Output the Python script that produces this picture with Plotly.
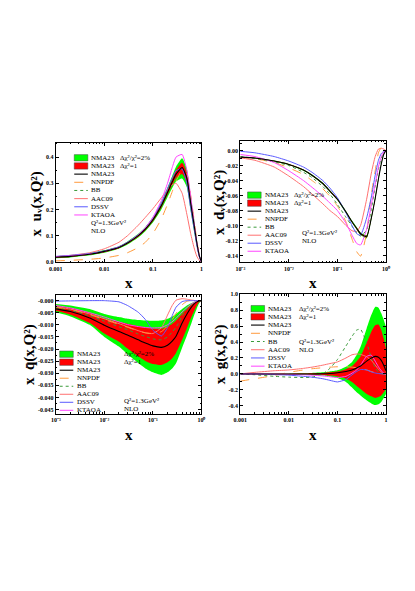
import plotly.graph_objects as go

W, H = 415, 591

X = [0.001, 0.002, 0.005, 0.01, 0.02, 0.03, 0.05, 0.07, 0.1, 0.15,
     0.2, 0.25, 0.3, 0.4, 0.5, 0.6, 0.7, 0.8, 0.9, 1.0]

# ---- x u_v(x,Q^2) ----
UV_NMA23 = [0.018, 0.021, 0.029, 0.040, 0.055, 0.072, 0.100, 0.125, 0.160, 0.215,
            0.265, 0.305, 0.335, 0.360, 0.320, 0.225, 0.145, 0.075, 0.025, 0.0]
UV_G_HI = [0.022, 0.025, 0.033, 0.045, 0.060, 0.078, 0.107, 0.133, 0.170, 0.229,
           0.283, 0.328, 0.363, 0.395, 0.355, 0.255, 0.170, 0.090, 0.032, 0.0]
UV_G_LO = [0.014, 0.017, 0.025, 0.035, 0.050, 0.066, 0.093, 0.117, 0.150, 0.201,
           0.247, 0.282, 0.307, 0.318, 0.285, 0.195, 0.120, 0.060, 0.018, 0.0]
UV_R_HI = [0.020, 0.023, 0.031, 0.043, 0.058, 0.075, 0.104, 0.129, 0.165, 0.222,
           0.274, 0.317, 0.350, 0.378, 0.340, 0.242, 0.158, 0.083, 0.029, 0.0]
UV_R_LO = [0.016, 0.019, 0.027, 0.037, 0.052, 0.069, 0.096, 0.121, 0.155, 0.208,
           0.256, 0.293, 0.320, 0.335, 0.300, 0.208, 0.132, 0.067, 0.021, 0.0]
UV_NNPDF = [0.004, 0.006, 0.010, 0.015, 0.025, 0.035, 0.055, 0.075, 0.108, 0.165,
            0.220, 0.268, 0.308, 0.350, 0.335, 0.255, 0.165, 0.085, 0.028, 0.0]
UV_BB = [0.019, 0.022, 0.030, 0.041, 0.056, 0.073, 0.101, 0.126, 0.162, 0.217,
         0.267, 0.307, 0.337, 0.355, 0.318, 0.222, 0.142, 0.073, 0.024, 0.0]
UV_AAC09 = [0.020, 0.025, 0.035, 0.050, 0.075, 0.100, 0.140, 0.170, 0.203, 0.245,
            0.275, 0.294, 0.300, 0.262, 0.182, 0.108, 0.056, 0.022, 0.006, 0.0]
UV_DSSV = [0.021, 0.025, 0.032, 0.042, 0.058, 0.075, 0.104, 0.130, 0.168, 0.225,
           0.280, 0.320, 0.348, 0.355, 0.300, 0.205, 0.130, 0.065, 0.020, 0.0]
UV_KTAOA = [0.020, 0.023, 0.030, 0.040, 0.056, 0.073, 0.103, 0.130, 0.170, 0.235,
            0.300, 0.360, 0.400, 0.410, 0.350, 0.250, 0.155, 0.078, 0.024, 0.0]

# ---- x d_v(x,Q^2) ----
DV_NMA23 = [-0.0088, -0.0100, -0.0140, -0.0185, -0.0260, -0.0330, -0.0440, -0.0540, -0.0650, -0.0820,
            -0.0950, -0.1040, -0.1110, -0.1150, -0.0900, -0.0640, -0.0380, -0.0180, -0.0050, 0.0]
DV_G_HI = [-0.0083, -0.0095, -0.0134, -0.0178, -0.0252, -0.0321, -0.0430, -0.0529, -0.0638, -0.0806,
           -0.0935, -0.1023, -0.1092, -0.1128, -0.0880, -0.0622, -0.0366, -0.0171, -0.0046, 0.0]
DV_G_LO = [-0.0093, -0.0105, -0.0146, -0.0192, -0.0268, -0.0339, -0.0450, -0.0551, -0.0662, -0.0834,
           -0.0965, -0.1057, -0.1128, -0.1172, -0.0920, -0.0658, -0.0394, -0.0189, -0.0054, 0.0]
DV_R_HI = [-0.0085, -0.0097, -0.0137, -0.0181, -0.0256, -0.0325, -0.0435, -0.0534, -0.0644, -0.0813,
           -0.0942, -0.1031, -0.1100, -0.1138, -0.0890, -0.0631, -0.0373, -0.0175, -0.0048, 0.0]
DV_R_LO = [-0.0091, -0.0103, -0.0143, -0.0189, -0.0264, -0.0335, -0.0445, -0.0546, -0.0656, -0.0827,
           -0.0958, -0.1049, -0.1120, -0.1162, -0.0910, -0.0649, -0.0387, -0.0185, -0.0052, 0.0]
DV_NNPDF = [-0.0088, -0.0110, -0.0160, -0.0230, -0.0320, -0.0400, -0.0510, -0.0610, -0.0740, -0.0950,
            -0.1180, -0.1350, -0.1410, -0.1100, -0.0580, -0.0270, -0.0030, 0.0040, 0.0030, 0.0]
DV_BB = [-0.0080, -0.0105, -0.0150, -0.0200, -0.0290, -0.0360, -0.0480, -0.0580, -0.0720, -0.0890,
         -0.1010, -0.1100, -0.1140, -0.1060, -0.0780, -0.0480, -0.0250, -0.0100, -0.0030, 0.0]
DV_AAC09 = [-0.0097, -0.0130, -0.0220, -0.0340, -0.0480, -0.0580, -0.0710, -0.0800, -0.0880, -0.1000,
            -0.1070, -0.1080, -0.1000, -0.0650, -0.0300, -0.0080, 0.0020, 0.0030, 0.0020, 0.0]
DV_DSSV = [-0.0010, -0.0030, -0.0080, -0.0140, -0.0220, -0.0290, -0.0400, -0.0500, -0.0630, -0.0830,
           -0.1000, -0.1110, -0.1130, -0.0900, -0.0620, -0.0330, -0.0130, -0.0040, -0.0010, 0.0]
DV_KTAOA = [-0.0053, -0.0080, -0.0160, -0.0270, -0.0400, -0.0490, -0.0610, -0.0700, -0.0800, -0.0970,
            -0.1130, -0.1240, -0.1260, -0.1050, -0.0720, -0.0450, -0.0220, -0.0080, -0.0020, 0.0]

# ---- x qbar(x,Q^2) ----
QB_NMA23 = [-0.0034, -0.0045, -0.0072, -0.0102, -0.0128, -0.0142, -0.0162, -0.0175, -0.0187, -0.0193,
            -0.0184, -0.0167, -0.0147, -0.0092, -0.0056, -0.0031, -0.0014, -0.0005, -0.0001, 0.0]
QB_G_HI = [-0.0014, -0.0020, -0.0035, -0.0055, -0.0068, -0.0075, -0.0080, -0.0082, -0.0083, -0.0082,
           -0.0075, -0.0065, -0.0055, -0.0035, -0.0020, -0.0012, -0.0006, -0.0002, 0.0, 0.0]
QB_G_LO = [-0.0048, -0.0065, -0.0100, -0.0150, -0.0190, -0.0222, -0.0258, -0.0280, -0.0296, -0.0307,
           -0.0296, -0.0280, -0.0259, -0.0195, -0.0145, -0.0102, -0.0062, -0.0033, -0.0010, 0.0]
QB_R_HI = [-0.0022, -0.0030, -0.0050, -0.0075, -0.0088, -0.0095, -0.0105, -0.0110, -0.0115, -0.0116,
           -0.0108, -0.0095, -0.0082, -0.0055, -0.0035, -0.0020, -0.0010, -0.0004, -0.0001, 0.0]
QB_R_LO = [-0.0042, -0.0058, -0.0092, -0.0136, -0.0170, -0.0198, -0.0230, -0.0249, -0.0262, -0.0266,
           -0.0255, -0.0238, -0.0216, -0.0162, -0.0115, -0.0075, -0.0045, -0.0020, -0.0006, 0.0]
QB_NNPDF = [-0.0027, -0.0037, -0.0058, -0.0078, -0.0098, -0.0110, -0.0125, -0.0133, -0.0136, -0.0128,
            -0.0105, -0.0078, -0.0052, -0.0017, -0.0003, 0.0001, 0.0001, 0.0, 0.0, 0.0]
QB_BB = [-0.0030, -0.0040, -0.0062, -0.0085, -0.0108, -0.0120, -0.0138, -0.0148, -0.0158, -0.0162,
         -0.0150, -0.0130, -0.0110, -0.0065, -0.0035, -0.0017, -0.0007, -0.0002, 0.0, 0.0]
QB_AAC09 = [-0.0025, -0.0035, -0.0055, -0.0075, -0.0095, -0.0108, -0.0124, -0.0133, -0.0136, -0.0112,
            -0.0060, -0.0020, 0.0002, 0.0008, 0.0006, 0.0003, 0.0001, 0.0, 0.0, 0.0]
QB_DSSV = [-0.0002, -0.0001, 0.0, 0.0, -0.0005, -0.0020, -0.0048, -0.0078, -0.0122, -0.0146,
           -0.0112, -0.0062, -0.0027, -0.0004, 0.0, 0.0, 0.0, 0.0, 0.0, 0.0]
QB_KTAOA = [-0.0020, -0.0030, -0.0050, -0.0068, -0.0088, -0.0099, -0.0107, -0.0111, -0.0113, -0.0111,
            -0.0100, -0.0087, -0.0073, -0.0047, -0.0029, -0.0016, -0.0008, -0.0003, 0.0, 0.0]

# ---- x g(x,Q^2) ----
G_NMA23 = [0.0, 0.0, 0.0, 0.0, 0.0, 0.0, 0.002, 0.006, 0.015, 0.030,
           0.050, 0.075, 0.100, 0.160, 0.200, 0.220, 0.210, 0.170, 0.110, 0.040]
G_G_HI = [0.002, 0.002, 0.003, 0.004, 0.008, 0.012, 0.020, 0.030, 0.045, 0.090,
          0.150, 0.240, 0.340, 0.570, 0.740, 0.840, 0.830, 0.760, 0.680, 0.590]
G_G_LO = [-0.002, -0.002, -0.003, -0.004, -0.008, -0.012, -0.020, -0.032, -0.050, -0.100,
          -0.170, -0.230, -0.270, -0.330, -0.370, -0.390, -0.380, -0.350, -0.300, -0.250]
G_R_HI = [0.001, 0.001, 0.002, 0.003, 0.005, 0.008, 0.013, 0.020, 0.030, 0.060,
          0.100, 0.160, 0.220, 0.390, 0.530, 0.610, 0.620, 0.550, 0.440, 0.320]
G_R_LO = [-0.001, -0.001, -0.002, -0.003, -0.005, -0.008, -0.013, -0.020, -0.030, -0.060,
          -0.100, -0.150, -0.190, -0.250, -0.280, -0.300, -0.290, -0.270, -0.230, -0.190]
G_NNPDF = [-0.090, -0.060, -0.020, 0.020, 0.050, 0.065, 0.078, 0.085, 0.090, 0.090,
           0.085, 0.078, 0.070, 0.050, 0.030, 0.018, 0.008, 0.003, 0.001, 0.0]
G_BB = [0.0, -0.010, -0.030, -0.040, -0.045, -0.040, 0.000, 0.070, 0.180, 0.350,
        0.470, 0.550, 0.560, 0.390, 0.200, 0.080, 0.025, 0.005, 0.0, 0.0]
G_AAC09 = [0.0, 0.020, 0.040, 0.050, 0.070, 0.085, 0.110, 0.130, 0.150, 0.200,
           0.240, 0.250, 0.245, 0.215, 0.170, 0.110, 0.060, 0.025, 0.005, 0.0]
G_DSSV = [0.0, 0.0, -0.008, -0.015, -0.030, -0.040, -0.060, -0.080, -0.100, -0.070,
          -0.010, 0.030, 0.055, 0.050, 0.025, 0.012, 0.005, 0.002, 0.0, 0.0]
G_KTAOA = [0.0, 0.0, 0.0, -0.005, -0.010, -0.015, -0.025, -0.035, -0.045, -0.030,
           0.010, 0.050, 0.110, 0.220, 0.235, 0.160, 0.090, 0.040, 0.012, 0.0]

SERIES = ["NMA23", "NNPDF", "BB", "AAC09", "DSSV", "KTAOA"]
STYLE = {
    "NMA23": ("black", "solid", 1.1),
    "NNPDF": ("#ff9a3c", "dash", 1.0),
    "BB": ("#3a9a3a", "dot", 1.0),
    "AAC09": ("#ff7070", "solid", 1.0),
    "DSSV": ("#5a5aff", "solid", 1.0),
    "KTAOA": ("#ff44ff", "solid", 1.0),
}
GREEN, RED = "#00ff00", "#ff0000"
SERIF = "Liberation Serif"
SMOOTH = 0.5

panels = [
    dict(bands=(UV_G_LO, UV_G_HI, UV_R_LO, UV_R_HI),
         lines=dict(NMA23=UV_NMA23, NNPDF=UV_NNPDF, BB=UV_BB, AAC09=UV_AAC09, DSSV=UV_DSSV, KTAOA=UV_KTAOA)),
    dict(bands=(DV_G_LO, DV_G_HI, DV_R_LO, DV_R_HI),
         lines=dict(NMA23=DV_NMA23, NNPDF=DV_NNPDF, BB=DV_BB, AAC09=DV_AAC09, DSSV=DV_DSSV, KTAOA=DV_KTAOA)),
    dict(bands=(QB_G_LO, QB_G_HI, QB_R_LO, QB_R_HI),
         lines=dict(NMA23=QB_NMA23, NNPDF=QB_NNPDF, BB=QB_BB, AAC09=QB_AAC09, DSSV=QB_DSSV, KTAOA=QB_KTAOA)),
    dict(bands=(G_G_LO, G_G_HI, G_R_LO, G_R_HI),
         lines=dict(NMA23=G_NMA23, NNPDF=G_NNPDF, BB=G_BB, AAC09=G_AAC09, DSSV=G_DSSV, KTAOA=G_KTAOA)),
]

fig = go.Figure()
for i, p in enumerate(panels, start=1):
    xa, ya = ("x", "y") if i == 1 else (f"x{i}", f"y{i}")
    g_lo, g_hi, r_lo, r_hi = p["bands"]
    for lo, hi, col in ((g_lo, g_hi, GREEN), (r_lo, r_hi, RED)):
        fig.add_trace(go.Scatter(x=X, y=lo, mode="lines",
                                 line=dict(width=0, shape="spline", smoothing=SMOOTH),
                                 xaxis=xa, yaxis=ya, showlegend=False, hoverinfo="skip"))
        fig.add_trace(go.Scatter(x=X, y=hi, mode="lines", fill="tonexty", fillcolor=col,
                                 line=dict(width=0, shape="spline", smoothing=SMOOTH),
                                 xaxis=xa, yaxis=ya, showlegend=False, hoverinfo="skip"))
    for name in ["AAC09", "NNPDF", "BB", "DSSV", "KTAOA", "NMA23"]:
        col, dash, w = STYLE[name]
        fig.add_trace(go.Scatter(x=X, y=p["lines"][name], mode="lines", name=name,
                                 line=dict(color=col, dash=dash, width=w, shape="spline", smoothing=SMOOTH),
                                 xaxis=xa, yaxis=ya, showlegend=False))

# axes geometry (pixels)
LEFT = [42, 232, 42, 232]
TOP = [133, 131, 287, 286]
BOTTOM = [254, 254, 407, 407]
PW = 150

LOG_MINOR = [m * 10.0 ** e for e in (-3, -2, -1) for m in range(2, 10)]
tickfont = dict(family=SERIF, size=6, color="black", weight="bold")


def base_axis():
    return dict(showline=True, linecolor="black", linewidth=1, mirror="ticks", ticks="inside",
                ticklen=3, tickwidth=0.8, tickcolor="black", showgrid=False, zeroline=False,
                tickfont=tickfont)


XT_DEC = ["0.001", "0.01", "0.1", "1"]
XT_POW = ["10⁻³", "10⁻²", "10⁻¹", "10⁰"]
xtexts = [XT_DEC, XT_POW, XT_POW, XT_DEC]

Y_RANGES = [[-0.002, 0.455], [-0.1493, 0.0132], [-0.0468, 0.0023], [-0.5, 1.0]]
Y_TICKS = [
    ([0.0, 0.1, 0.2, 0.3, 0.4], ["0.0", "0.1", "0.2", "0.3", "0.4"], 0.05),
    ([0.0, -0.02, -0.04, -0.06, -0.08, -0.10, -0.12, -0.14],
     ["0.00", "-0.02", "-0.04", "-0.06", "-0.08", "-0.10", "-0.12", "-0.14"], 0.01),
    ([-0.005 * k for k in range(10)], ["-0.%03d" % (5 * k) for k in range(10)], 0.0025),
    ([-0.4, -0.2, 0.0, 0.2, 0.4, 0.6, 0.8, 1.0],
     ["-0.4", "-0.2", "0.0", "0.2", "0.4", "0.6", "0.8", "1.0"], 0.1),
]

layout = dict(width=W, height=H, margin=dict(l=0, r=0, t=0, b=0),
              paper_bgcolor="white", plot_bgcolor="white", showlegend=False)
for i in range(4):
    n = "" if i == 0 else str(i + 1)
    xa = base_axis()
    xa.update(type="log", range=[-3, 0], domain=[LEFT[i] / W, (LEFT[i] + PW) / W],
              anchor="y" + n, tickmode="array", tickvals=[0.001, 0.01, 0.1, 1],
              ticktext=xtexts[i],
              minor=dict(tickmode="array", tickvals=LOG_MINOR, ticks="inside", ticklen=1.6,
                         tickcolor="black", tickwidth=0.6))
    ya = base_axis()
    tv, tt, mdt = Y_TICKS[i]
    ya.update(range=Y_RANGES[i], domain=[1 - BOTTOM[i] / H, 1 - TOP[i] / H], anchor="x" + n,
              tickmode="array", tickvals=tv, ticktext=tt,
              minor=dict(dtick=mdt, ticks="inside", ticklen=1.6, tickcolor="black", tickwidth=0.6))
    layout["xaxis" + n] = xa
    layout["yaxis" + n] = ya
fig.update_layout(**layout)

# ---- hand drawn legends (positions in pixels) ----
LEG = [
    dict(sx=61, tx=76, y0=148.3, dy=8.25, nx=106, qx=76, qy=214.5),
    dict(sx=239.5, tx=255, y0=186.0, dy=8.1, nx=285, qx=293, qy=224.0),
    dict(sx=46, tx=61.5, y0=346.7, dy=8.1, nx=110, qx=110, qy=393.7),
    dict(sx=243, tx=258.5, y0=300.7, dy=8.3, nx=290, qx=290, qy=334.0),
]
SW = 14


def fx(v):
    return v / W


def fy(v):
    return 1 - v / H


shapes, notes = [], []
txt_font = dict(family=SERIF, size=7, color="black")


def note(x, y, text, font=txt_font, **kw):
    d = dict(x=fx(x), y=fy(y), xref="paper", yref="paper", text=text, showarrow=False,
             xanchor="left", yanchor="middle", font=font)
    d.update(kw)
    notes.append(d)


for L in LEG:
    rows = [("band", GREEN, "NMA23"), ("band", RED, "NMA23")] + [("line", s, s) for s in SERIES]
    for k, (kind, what, label) in enumerate(rows):
        yy = L["y0"] + k * L["dy"]
        if kind == "band":
            shapes.append(dict(type="rect", xref="paper", yref="paper",
                               x0=fx(L["sx"]), x1=fx(L["sx"] + SW), y0=fy(yy + 3.2), y1=fy(yy - 3.2),
                               fillcolor=what, line=dict(color="#444444", width=0.5)))
        else:
            col, dash, w = STYLE[what]
            shapes.append(dict(type="line", xref="paper", yref="paper",
                               x0=fx(L["sx"]), x1=fx(L["sx"] + SW), y0=fy(yy), y1=fy(yy),
                               line=dict(color=col, dash=dash, width=w)))
        note(L["tx"], yy, label)
    note(L["nx"], L["y0"], "Δχ²/χ²=2%")
    note(L["nx"], L["y0"] + L["dy"], "Δχ²=1")
    note(L["qx"], L["qy"], "Q²=1.3GeV²")
    note(L["qx"], L["qy"] + 8.2, "NLO")

# axis titles
title_font = dict(family=SERIF, size=15, color="black")
YTITLES = [
    ("<b>x  uᵥ(x,Q²)</b>", 22, 195),
    ("<b>x  dᵥ(x,Q²)</b>", 210, 193),
    ("<b>x  q\u0304(x,Q²)</b>", 15, 347),
    ("<b>x  g(x,Q²)</b>", 212, 347),
]
for t, xx, yy in YTITLES:
    note(xx, yy, t, font=title_font, textangle=-90, xanchor="center")
for xx, yy in [(117, 275), (307, 275), (117, 428), (307, 428)]:
    note(xx, yy, "<b>x</b>", font=title_font, xanchor="center")

fig.update_layout(shapes=shapes, annotations=notes)
fig.write_html("out.html")
